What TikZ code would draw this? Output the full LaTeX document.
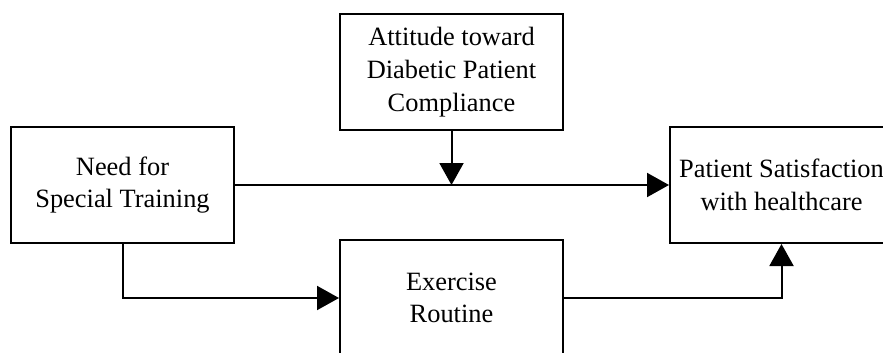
\documentclass[tikz,border=0pt]{standalone}
\usepackage{fontspec}
\setmainfont{Liberation Serif}
\usetikzlibrary{arrows.meta}

\begin{document}
\begin{tikzpicture}[x=1pt, y=-1pt,
    box/.style={draw, line width=2pt, minimum width=223pt, minimum height=116pt, inner sep=0pt, align=center, font=\fontsize{26.4}{32.7}\selectfont},
    link/.style={line width=2pt, -{Triangle[length=22pt,width=24pt]}}]
                \useasboundingbox (0,0) rectangle (883,353);
                \node[box] (need) at (122.5,185) {Need for\\Special Training};
                \node[box] (attitude) at (451.5,72) {Attitude toward\\Diabetic Patient\\Compliance};
                \node[box] (satisfaction) at (781.5,185) {Patient Satisfaction\\with healthcare};
                \node[box] (exercise) at (451.5,298) {Exercise\\Routine};
                \draw[link] (need) -- (satisfaction);
                \draw[link] (attitude) -- (attitude.south |- need.east);
                \draw[link] (need.south) |- (exercise.west);
                \draw[link] (exercise.east) -| (satisfaction.south);
            \end{tikzpicture}
\end{document}
